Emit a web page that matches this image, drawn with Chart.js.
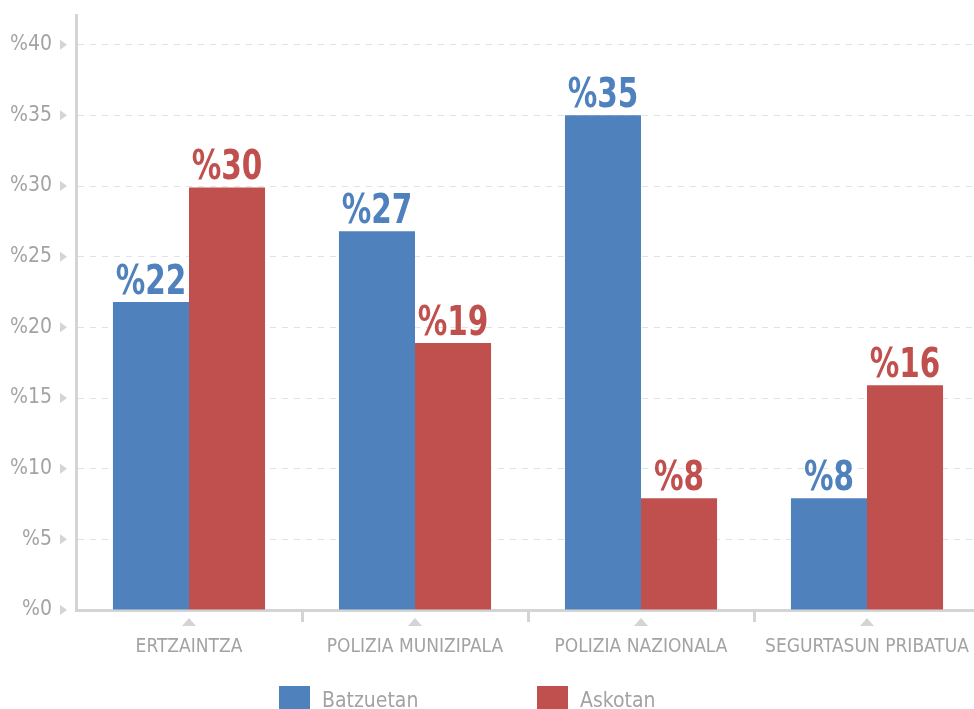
<!DOCTYPE html>
<html>
<head>
<meta charset="utf-8">
<script src="https://cdn.jsdelivr.net/npm/chart.js@4.4.0/dist/chart.umd.min.js"></script>
<style>
  html, body { margin: 0; padding: 0; background: #fff; overflow: hidden; }
  #wrap { width: 1000px; height: 709px; position: relative; }
</style>
</head>
<body>
<div id="wrap"><canvas id="chart"></canvas></div>
<script>
// === DATOS ===
const categorias = ['ERTZAINTZA', 'POLIZIA MUNIZIPALA', 'POLIZIA NAZIONALA', 'SEGURTASUN PRIBATUA'];
const batzuetan = [21.8, 26.8, 35, 7.9];
const askotan = [29.9, 18.9, 7.9, 15.9];
const serieIzenak = ['Batzuetan', 'Askotan'];

const URDINA = '#4f81bd';
const GORRIA = '#c0504d';
const GRISA = '#d4d4d4';
const TESTUA = '#a3a3a3';
const FONTUA = '"DejaVu Sans Condensed", "Liberation Sans Narrow", sans-serif';

// triangelu txikiak ardatzetan
const markak = {
  id: 'markak',
  afterDraw(chart) {
    const { ctx, scales: { x, y } } = chart;
    ctx.save();
    ctx.fillStyle = GRISA;
    y.ticks.forEach((t, i) => {
      const py = y.getPixelForTick(i);
      ctx.beginPath();
      ctx.moveTo(60, py - 5);
      ctx.lineTo(67, py);
      ctx.lineTo(60, py + 5);
      ctx.closePath();
      ctx.fill();
    });
    x.ticks.forEach((t, i) => {
      const px = x.getPixelForValue(i);
      const py = x.top + 8;
      ctx.beginPath();
      ctx.moveTo(px - 7, py + 8);
      ctx.lineTo(px, py);
      ctx.lineTo(px + 7, py + 8);
      ctx.closePath();
      ctx.fill();
    });
    ctx.restore();
  }
};

// balioen etiketak barren gainean
const etiketak = {
  id: 'etiketak',
  afterDatasetsDraw(chart) {
    const { ctx } = chart;
    chart.data.datasets.forEach((ds, di) => {
      chart.getDatasetMeta(di).data.forEach((bar, i) => {
        ctx.save();
        ctx.translate(bar.x, bar.y - 8);
        ctx.scale(0.8, 1);
        ctx.font = 'bold 41px ' + FONTUA;
        ctx.textAlign = 'center';
        ctx.textBaseline = 'alphabetic';
        ctx.fillStyle = ds.backgroundColor;
        ctx.fillText('%' + Math.round(ds.data[i]), 0, 0);
        ctx.restore();
      });
    });
  }
};

// legenda behean
const legenda = {
  id: 'legenda',
  afterDraw(chart) {
    const { ctx } = chart;
    const xs = [279, 537];
    ctx.save();
    ctx.font = '21px ' + FONTUA;
    ctx.textBaseline = 'alphabetic';
    chart.data.datasets.forEach((ds, di) => {
      ctx.fillStyle = ds.backgroundColor;
      ctx.fillRect(xs[di], 686, 31, 26);
      ctx.fillStyle = TESTUA;
      ctx.fillText(ds.label, xs[di] + 43, 707);
    });
    ctx.restore();
  }
};

new Chart(document.getElementById('chart'), {
  type: 'bar',
  data: {
    labels: categorias,
    datasets: [
      { label: serieIzenak[0], data: batzuetan, backgroundColor: URDINA },
      { label: serieIzenak[1], data: askotan, backgroundColor: GORRIA }
    ]
  },
  options: {
    responsive: true,
    maintainAspectRatio: false,
    animation: false,
    layout: { padding: { top: 15, right: 20, left: 0, bottom: 0 } },
    datasets: { bar: { categoryPercentage: 0.673, barPercentage: 1 } },
    plugins: { legend: { display: false }, tooltip: { enabled: false } },
    scales: {
      x: {
        afterFit: s => { s.height = 99; s.paddingLeft = 0; s.paddingRight = 0; },
        grid: {
          offset: true,
          drawOnChartArea: false,
          tickLength: 12,
          lineWidth: 3,
          color: ctx => (ctx.index === 0 ? 'rgba(0,0,0,0)' : GRISA)
        },
        border: { color: GRISA, width: 3 },
        ticks: {
          color: TESTUA, padding: 14, maxRotation: 0, minRotation: 0, autoSkip: false,
          font: { family: FONTUA, size: 19 }
        }
      },
      y: {
        min: 0,
        max: 42.1,
        afterFit: s => { s.width = 76; s.paddingTop = 0; s.paddingBottom = 0; },
        afterBuildTicks: s => { s.ticks = s.ticks.filter(t => t.value % 5 === 0); },
        grid: { color: '#e3e3e3', lineWidth: 1, drawTicks: false },
        border: { color: GRISA, width: 3, dash: [6, 6] },
        ticks: {
          stepSize: 5,
          color: TESTUA,
          padding: 24,
          font: { family: FONTUA, size: 21 },
          callback: v => '%' + v
        }
      }
    }
  },
  plugins: [markak, etiketak, legenda]
});
</script>
</body>
</html>
